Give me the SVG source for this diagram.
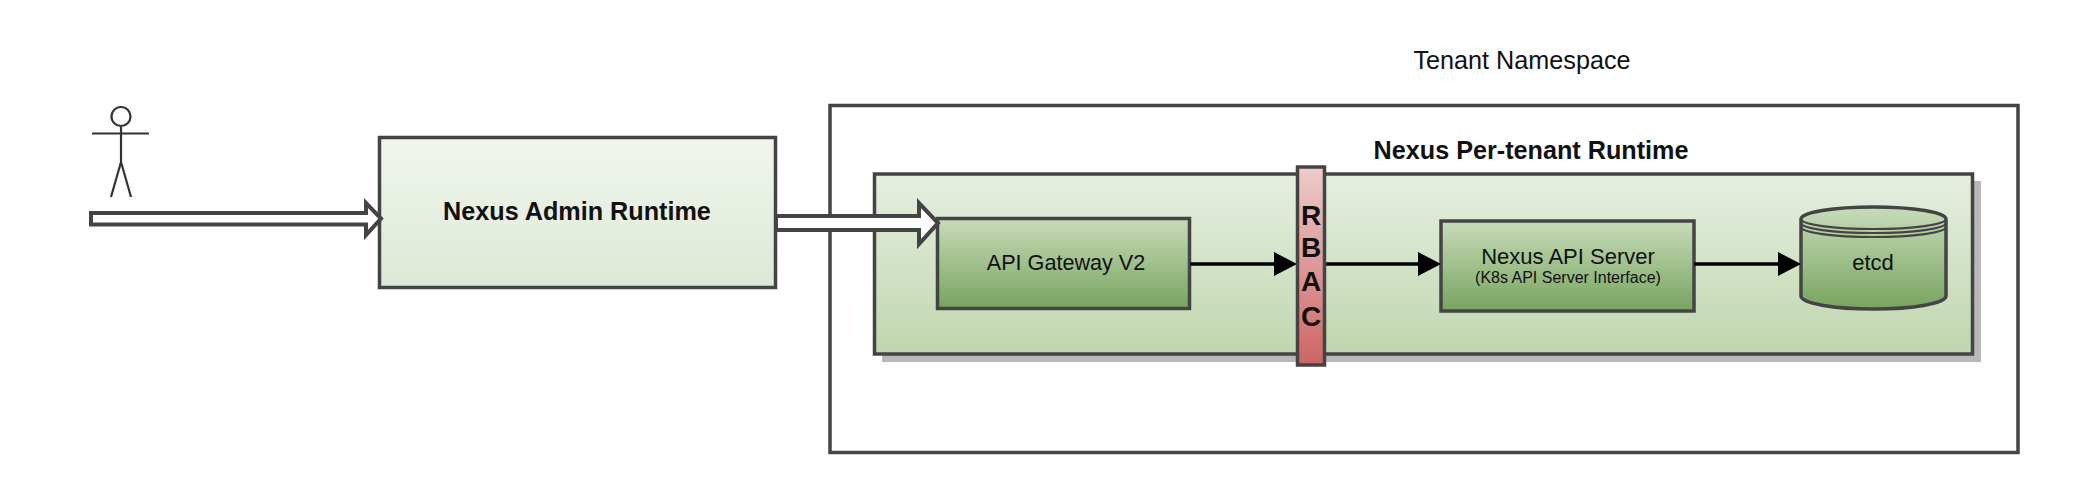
<svg xmlns="http://www.w3.org/2000/svg" width="2086" height="486" viewBox="0 0 2086 486">
<style>
text{font-family:"Liberation Sans",Arial,sans-serif;fill:#111;text-anchor:middle}
.b{stroke:#444;stroke-width:3.5}
.bold{font-weight:bold}
.c{fill:none;stroke:#000;stroke-width:3.5}
.h{fill:#000;stroke:none}
.arrow{fill:#fff;stroke:#444;stroke-width:4;stroke-linejoin:miter}
.actor{fill:none;stroke:#333;stroke-width:2.2}
</style>
<defs>
<linearGradient id="light" x1="0" y1="0" x2="0" y2="1"><stop offset="0" stop-color="#f1f6ee"/><stop offset="1" stop-color="#dce8d5"/></linearGradient>
<linearGradient id="mid" x1="0" y1="0" x2="0" y2="1"><stop offset="0" stop-color="#e6efe0"/><stop offset="1" stop-color="#bfd6ae"/></linearGradient>
<linearGradient id="dark" x1="0" y1="0" x2="0" y2="1"><stop offset="0" stop-color="#c8dbba"/><stop offset="1" stop-color="#77a45e"/></linearGradient>
<linearGradient id="red" x1="0" y1="0" x2="0" y2="1"><stop offset="0" stop-color="#eccccc"/><stop offset="1" stop-color="#ce6464"/></linearGradient>
</defs>
<g id="tenant-namespace">
<rect class="b" x="830" y="105.500" width="1188" height="347" fill="#fff"/>
<text x="1522" y="69" font-size="25.200">Tenant Namespace</text>
</g>
<g id="per-tenant-runtime">
<rect x="882" y="181" width="1099" height="181" fill="#b8b8b8"/>
<rect class="b" x="874.500" y="174" width="1098" height="180" fill="url(#mid)"/>
<text class="bold" x="1531" y="159" font-size="25.200">Nexus Per-tenant Runtime</text>
</g>
<g id="actor">
<circle class="actor" cx="121" cy="116.500" r="9.500"/>
<path class="actor" d="M121 126V162M92 133.500H149M121 162L111 197M121 162L131 197"/>
</g>
<g id="admin-runtime">
<rect class="b" x="379.500" y="137.500" width="396" height="150" fill="url(#light)"/>
<text class="bold" x="577" y="220" font-size="25.200">Nexus Admin Runtime</text>
</g>
<g id="api-gateway">
<rect class="b" x="937.500" y="218.500" width="252" height="90" fill="url(#dark)"/>
<text x="1066" y="270" font-size="21.600">API Gateway V2</text>
</g>
<g id="api-server">
<rect class="b" x="1441" y="221" width="253" height="90" fill="url(#dark)"/>
<text x="1568" y="264" font-size="22">Nexus API Server</text>
<text x="1568" y="283" font-size="16">(K8s API Server Interface)</text>
</g>
<g id="etcd">
<path class="b" fill="url(#dark)" d="M1801 219A72.500 12 0 0 1 1946 219V296A72.500 13 0 0 1 1801 296Z"/>
<path d="M1801 219A72.500 10 0 0 0 1946 219M1801 223A72.500 10 0 0 0 1946 223M1801 227A72.500 10 0 0 0 1946 227" fill="none" stroke="#444" stroke-width="2.200"/>
<text x="1873" y="270" font-size="22">etcd</text>
</g>
<g id="connectors">
<path class="arrow" d="M91 213H366V203L381 218.500L366 235V224.500H91Z"/>
<path class="arrow" d="M776 216H919V203L938 223L919 244V230H776Z"/>
<path class="c" d="M1190 264H1275"/><path class="h" d="M1274 252L1297 264L1274 276Z"/>
<path class="c" d="M1325 264H1420"/><path class="h" d="M1418 252L1441 264L1418 276Z"/>
<path class="c" d="M1694 264H1779"/><path class="h" d="M1778 252L1801 264L1778 276Z"/>
</g>
<g id="rbac">
<rect class="b" x="1297.500" y="167" width="27" height="198" fill="url(#red)"/>
<text class="bold" font-size="28" x="1311" y="225">R</text>
<text class="bold" font-size="28" x="1311" y="257">B</text>
<text class="bold" font-size="28" x="1311" y="291">A</text>
<text class="bold" font-size="28" x="1311" y="326">C</text>
</g>
</svg>
